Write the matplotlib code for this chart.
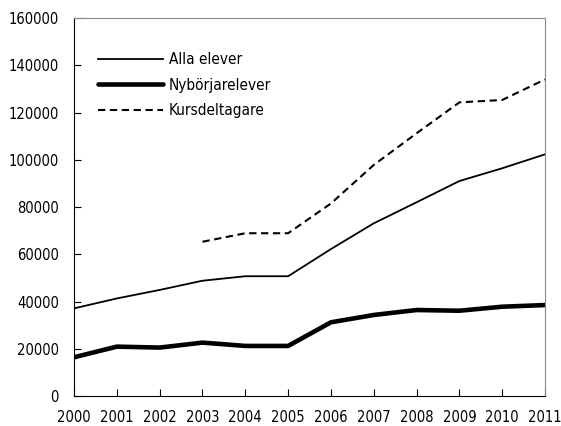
import matplotlib
matplotlib.use("Agg")
import matplotlib.pyplot as plt

plt.rcParams['font.family'] = ['Liberation Sans Narrow', 'DejaVu Sans']
plt.rcParams['font.stretch'] = 'condensed'

years = list(range(2000, 2012))
alla = [37100, 41300, 44900, 48800, 50700, 50700, 62200, 73100, 82000, 91000, 96400, 102300]
nyborjare = [16400, 20900, 20500, 22600, 21200, 21200, 31200, 34300, 36400, 36100, 37800, 38500]
kurs_years = list(range(2003, 2012))
kurs = [65300, 68900, 68900, 81500, 97800, 111200, 124300, 125300, 134000]

fig = plt.figure(figsize=(5.61, 4.26), dpi=100)
ax = fig.add_axes([0.132, 0.0704, 0.8395, 0.8873])

ax.plot(years, alla, color="black", lw=1.3, label="Alla elever")
ax.plot(years, nyborjare, color="black", lw=3.3, solid_capstyle="round", label="Nybörjarelever")
ax.plot(kurs_years, kurs, color="black", lw=1.5, ls=(0, (3.5, 2.2)), label="Kursdeltagare")

ax.set_xlim(2000, 2011)
ax.set_ylim(0, 160000)
ax.set_xticks(years)
ax.set_yticks(range(0, 160001, 20000))
ax.tick_params(direction="in", labelsize=10.5, length=5, width=0.8)
ax.tick_params(axis="x", pad=10)
ax.tick_params(axis="y", pad=11)
for s in ax.spines.values():
    s.set_linewidth(0.8)
ax.spines["top"].set_color("#888888")
ax.spines["right"].set_color("#888888")

ax.legend(loc="upper left", bbox_to_anchor=(0.0, 0.975), frameon=False, fontsize=11,
          handlelength=4.2, borderaxespad=1.2, labelspacing=0.7, handletextpad=0.4)

fig.savefig("out.png", dpi=100)
